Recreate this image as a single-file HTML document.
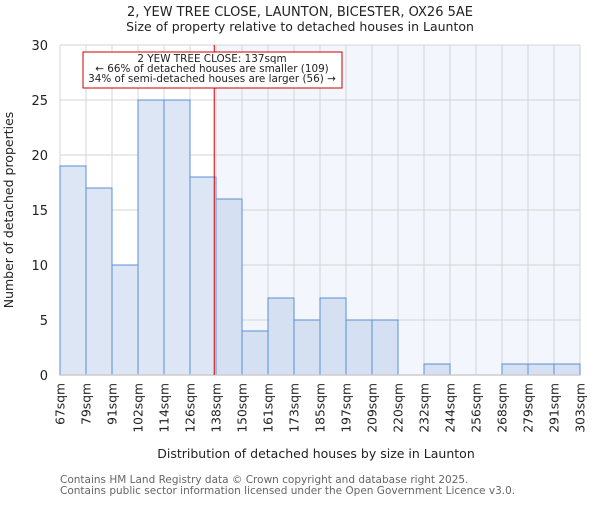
<!DOCTYPE html>
<html><head><meta charset="utf-8"><style>
body{margin:0;background:#fff;}
svg text{font-family:"DejaVu Sans","Liberation Sans",sans-serif;}
</style></head><body>
<svg width="600" height="500" viewBox="0 0 600 500">
<g id="plot"></g>
</svg>
<script>
const categories=["67sqm","79sqm","91sqm","102sqm","114sqm","126sqm","138sqm","150sqm","161sqm","173sqm","185sqm","197sqm","209sqm","220sqm","232sqm","244sqm","256sqm","268sqm","279sqm","291sqm","303sqm"];
const counts=[19,17,10,25,25,18,16,4,7,5,7,5,5,0,1,0,0,1,1,1];
const yTicks=[0,5,10,15,20,25,30];
const marker=137;
const binStart=67, binWidth=11.8;
const NS="http://www.w3.org/2000/svg";
const svg=document.querySelector("svg");
const L=60,R=580,T=45,B=375,yMax=30;
const n=counts.length;
const bw=(R-L)/n;
const X=i=>L+i*bw;
const Y=v=>B-(v/yMax)*(B-T);
const mx=L+(marker-binStart)/binWidth*bw;
function el(t,a,txt){const e=document.createElementNS(NS,t);for(const k in a)e.setAttribute(k,a[k]);if(txt!==undefined)e.textContent=txt;svg.appendChild(e);return e;}
let e;
e=el("text",{x:300,y:16,"text-anchor":"middle","font-size":13,fill:"#222"},"2, YEW TREE CLOSE, LAUNTON, BICESTER, OX26 5AE");


e=el("text",{x:300,y:31,"text-anchor":"middle","font-size":12.5,fill:"#222"},"Size of property relative to detached houses in Launton");


e=el("rect",{x:mx,y:T,width:R-mx,height:B-T,fill:"#f3f6fd"});


for(let i=0;i<=n;i++){e=el("line",{x1:X(i),x2:X(i),y1:T,y2:B,stroke:"#d4d4d4","stroke-width":1});

}
yTicks.forEach(v=>{e=el("line",{x1:L,x2:R,y1:Y(v),y2:Y(v),stroke:"#d4d4d4","stroke-width":1});


e=el("text",{x:L-12,y:Y(v)+5,"text-anchor":"end","font-size":13,fill:"#222"},String(v));

});
counts.forEach((c,i)=>{if(c<=0)return;const left=X(i)<mx;
e=el("rect",{x:X(i),y:Y(c),width:bw,height:B-Y(c),fill:left?"#dde6f4":"#d5e0f2",stroke:"#5b8fd6","stroke-width":1});

});
e=el("line",{x1:L,x2:R,y1:B,y2:B,stroke:"#cccccc","stroke-width":1.5});


categories.forEach((c,i)=>{e=el("text",{transform:`translate(${X(i)+4.5},383) rotate(-90)`,"text-anchor":"end","font-size":12.3,fill:"#222"},c);

});
e=el("line",{x1:mx,x2:mx,y1:T,y2:B,stroke:"#cc0000","stroke-width":1});


e=el("rect",{x:83,y:52,width:259,height:36,fill:"#fff",stroke:"#cc0000","stroke-width":1});


[["2 YEW TREE CLOSE: 137sqm",62],["← 66% of detached houses are smaller (109)",72],["34% of semi-detached houses are larger (56) →",82]].forEach(([t,y])=>{
e=el("text",{x:212,y:y,"text-anchor":"middle","font-size":10.4,fill:"#222"},t);

});
e=el("text",{transform:"translate(13,210) rotate(-90)","text-anchor":"middle","font-size":12.5,fill:"#222"},"Number of detached properties");


e=el("text",{x:316,y:458,"text-anchor":"middle","font-size":12.5,fill:"#222"},"Distribution of detached houses by size in Launton");


e=el("text",{x:60,y:483,"font-size":10.5,fill:"#666"},"Contains HM Land Registry data © Crown copyright and database right 2025.");


e=el("text",{x:60,y:494,"font-size":10.5,fill:"#666"},"Contains public sector information licensed under the Open Government Licence v3.0.");


</script>
</body></html>
